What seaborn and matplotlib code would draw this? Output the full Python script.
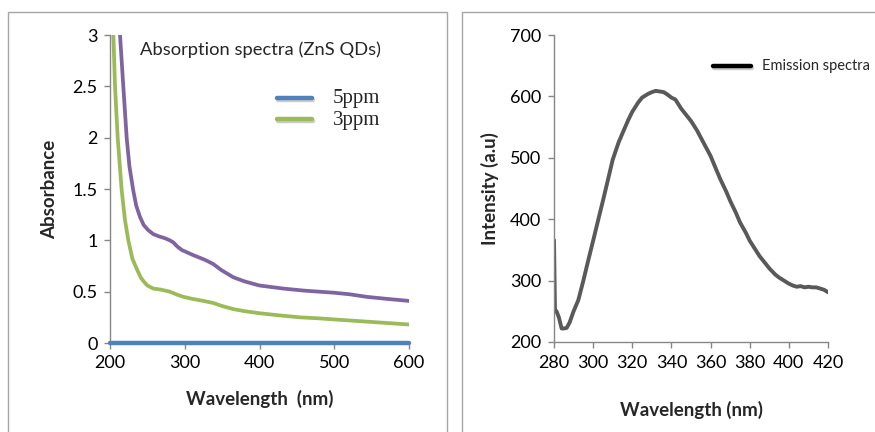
import pandas as pd
import matplotlib
matplotlib.use("Agg")
import matplotlib.pyplot as plt
import matplotlib.patches as patches
import matplotlib.patheffects as pe
import seaborn as sns

# absorption spectra values
wl_5ppm = [200, 600]
abs_5ppm = [0.0, 0.0]

wl_3ppm = [203, 204.5, 206.7, 210.3, 215.6, 220, 224.5, 230, 236.5, 241, 245, 250, 258, 268, 280,
           290, 298, 310, 325, 338, 350, 365, 380, 400, 425, 454, 480, 499, 550, 600]
abs_3ppm = [3.4, 3.0, 2.5, 2.0, 1.49, 1.2, 1.0, 0.82, 0.71, 0.64, 0.6, 0.56, 0.53, 0.52, 0.50,
            0.47, 0.45, 0.43, 0.41, 0.39, 0.36, 0.33, 0.31, 0.29, 0.27, 0.25, 0.24, 0.23, 0.205, 0.18]

wl_purple = [212, 213.4, 217.8, 222.3, 226, 231, 235, 240, 245, 251, 258, 265, 273.6, 280, 284.7,
             290, 296, 310, 327, 338, 349, 365, 380, 400, 432, 460, 499, 520, 543, 570, 600]
abs_purple = [3.2, 3.0, 2.5, 2.0, 1.72, 1.49, 1.34, 1.23, 1.15, 1.10, 1.06, 1.04, 1.02, 1.0, 0.98,
              0.94, 0.906, 0.86, 0.81, 0.77, 0.71, 0.64, 0.6, 0.56, 0.53, 0.51, 0.49, 0.475, 0.45, 0.43, 0.41]

# emission spectrum values
wl_em = [280, 280.5, 281.3, 282.5, 283.9, 285, 286.5, 288, 290, 292.4, 295, 297.5, 300,
         302.6, 305, 308, 310, 313, 315, 318, 320, 323, 325, 328, 330, 332, 334, 336,
         338, 340, 342, 345, 348, 350, 353, 355, 358, 360, 363, 365, 368, 370, 373, 375,
         378, 380, 383, 385, 388, 390, 393, 395, 398, 400, 402, 404, 406, 408, 410, 412,
         414, 416, 418, 420]
int_em = [366, 252, 250, 240, 222, 222, 223, 232, 250, 268, 300, 333, 365,
          399, 430, 470, 497, 525, 540, 562, 575, 590, 598, 604, 607, 609, 608, 607,
          603, 598, 595, 580, 568, 560, 545, 533, 515, 503, 480, 465, 445, 430, 410, 395,
          378, 365, 350, 340, 328, 320, 310, 305, 299, 295, 292, 290, 291, 289, 290, 289,
          289, 287, 285, 281]

abs_df = pd.concat([
    pd.DataFrame({"wl": wl_5ppm, "A": abs_5ppm, "series": "5ppm"}),
    pd.DataFrame({"wl": wl_3ppm, "A": abs_3ppm, "series": "3ppm"}),
    pd.DataFrame({"wl": wl_purple, "A": abs_purple, "series": "other"}),
])
em_df = pd.DataFrame({"wl": wl_em, "I": int_em})

sns.set_theme(style="white")
plt.rcParams["font.family"] = ["Lato", "DejaVu Sans"]

fig = plt.figure(figsize=(8.75, 4.32), dpi=100)

# panel frames
frame_top = 1 - 12 / 432
fig.patches.append(patches.Rectangle((8 / 875, -0.1), (447 - 8) / 875, frame_top + 0.1,
                                     transform=fig.transFigure, fill=False,
                                     edgecolor="#a6a6a6", linewidth=1.0))
fig.patches.append(patches.Rectangle((462 / 875, -0.1), 0.6, frame_top + 0.1,
                                     transform=fig.transFigure, fill=False,
                                     edgecolor="#a6a6a6", linewidth=1.0))

grey = "#868686"
colors = {"5ppm": "#4f81bd", "3ppm": "#9bbb59", "other": "#8064a2"}

ax1 = fig.add_axes([110 / 875, 1 - 343 / 432, 299 / 875, 308 / 432])
ax2 = fig.add_axes([554 / 875, 1 - 342 / 432, 274 / 875, 307 / 432])

for s in ["other", "3ppm"]:
    sub = abs_df[abs_df["series"] == s]
    sns.lineplot(data=sub, x="wl", y="A", ax=ax1, color=colors[s], linewidth=2.7,
                 legend=False, sort=False)
sub = abs_df[abs_df["series"] == "5ppm"]
sns.lineplot(data=sub, x="wl", y="A", ax=ax1, color=colors["5ppm"], linewidth=3.2,
             legend=False, clip_on=False, zorder=5)

ax1.set_xlim(200, 600)
ax1.set_ylim(0, 3)
ax1.set_xticks([200, 300, 400, 500, 600])
ax1.set_yticks([0, 0.5, 1, 1.5, 2, 2.5, 3])
ax1.set_yticklabels(["0", "0.5", "1", "1.5", "2", "2.5", "3"])
ax1.set_xlabel("Wavelength  (nm)", fontsize=13.5, fontweight="bold", labelpad=13)
ax1.set_ylabel("Absorbance", fontsize=13.5, fontweight="bold", labelpad=10)
ax1.text(140 / 875, 1 - 50 / 432, "Absorption spectra (ZnS QDs)", transform=fig.transFigure,
         fontsize=13.2, va="center", ha="left")

# legend for the absorption panel
shadow = [pe.SimpleLineShadow(offset=(0.5, -1.5), shadow_color="#999999", alpha=0.5), pe.Normal()]
for yy, key in ((98, "5ppm"), (119, "3ppm")):
    fig.add_artist(plt.Line2D([277 / 875, 312 / 875], [1 - yy / 432, 1 - yy / 432],
                              transform=fig.transFigure, color=colors[key], linewidth=3.2,
                              path_effects=shadow))
    fig.text(333 / 875, 1 - (yy + 1) / 432, key, fontsize=15,
             family=["Liberation Serif", "DejaVu Serif"], va="center", ha="left")

sns.lineplot(data=em_df, x="wl", y="I", ax=ax2, color="#595959", linewidth=2.8, legend=False)
ax2.set_xlim(280, 420)
ax2.set_ylim(200, 700)
ax2.set_xticks(list(range(280, 421, 20)))
ax2.set_yticks(list(range(200, 701, 100)))
ax2.set_xlabel("Wavelength (nm)", fontsize=13.5, fontweight="bold", labelpad=22)
ax2.set_ylabel("Intensity (a.u)", fontsize=13.5, fontweight="bold", labelpad=8)

fig.add_artist(plt.Line2D([713 / 875, 751 / 875], [1 - 66 / 432, 1 - 66 / 432],
                          transform=fig.transFigure, color="black", linewidth=3.2,
                          path_effects=shadow))
fig.text(762 / 875, 1 - 66 / 432, "Emission spectra", fontsize=10.5, va="center", ha="left")

for ax in (ax1, ax2):
    for side in ("top", "right"):
        ax.spines[side].set_visible(False)
    for side in ("left", "bottom"):
        ax.spines[side].set_color(grey)
        ax.spines[side].set_linewidth(1.0)
    ax.tick_params(axis="both", direction="out", length=4, width=1, color=grey,
                   labelsize=13, labelcolor="black", left=True, bottom=True, pad=5)
    ax.set_facecolor("white")

fig.savefig("out.png", dpi=100, facecolor="white")
